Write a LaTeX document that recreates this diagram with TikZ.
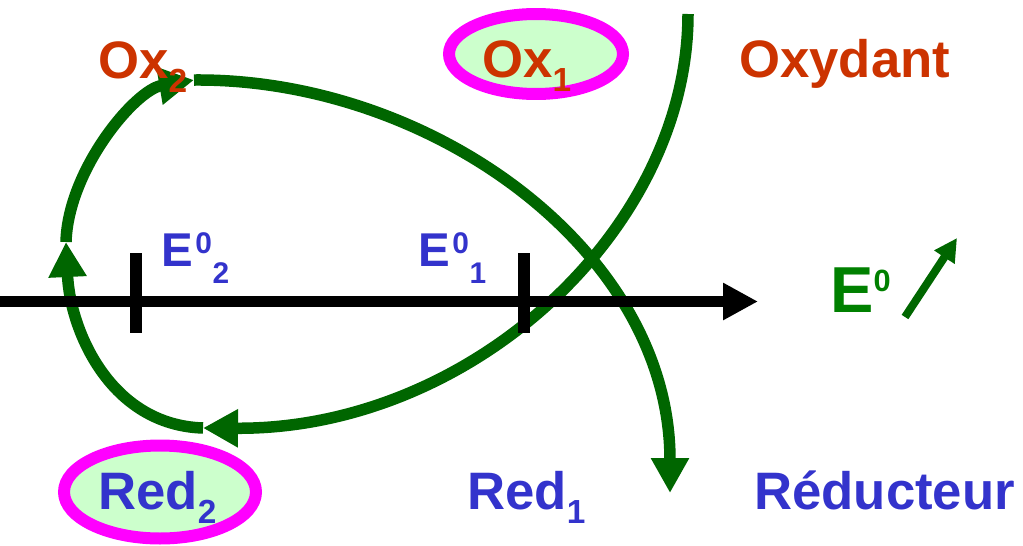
\documentclass[tikz,border=0pt]{standalone}
\usepackage{fontspec}
\setmainfont{Liberation Sans}
\usetikzlibrary{arrows.meta,shapes.geometric}
\definecolor{flowgreen}{HTML}{006600}
\definecolor{potgreen}{HTML}{008000}
\definecolor{oxcol}{HTML}{CC3300}
\definecolor{redcol}{HTML}{3333CC}
\definecolor{ovalfill}{HTML}{CCFFCC}
\definecolor{ovalline}{HTML}{FF00FF}
% raised or lowered index: shift, size, text
\newcommand{\idx}[3]{\raisebox{#1}{\fontsize{#2}{#2}\selectfont #3}}

\begin{document}
\begin{tikzpicture}[x=0.02cm,y=-0.02cm,
  txt/.style={anchor=base west,inner sep=0pt,font=\fontsize{30}{36}\selectfont\bfseries},
  pot/.style={anchor=base west,inner sep=0pt,font=\fontsize{27}{32}\selectfont\bfseries,text=redcol},
  oval/.style={ellipse,draw=ovalline,line width=0.24cm,fill=ovalfill,inner sep=0pt},
  flow/.style={draw=flowgreen,line width=0.23cm,-{Triangle[length=0.7cm,width=0.72cm]}},
  axis/.style={line width=0.22cm,-{Triangle[length=0.7cm,width=0.7cm]}},
  tick/.style={line width=0.24cm}]
\useasboundingbox (0,0) rectangle (1023,545);
% ovals
\node[oval,minimum width=3.48cm,minimum height=1.6cm] (ox1) at (536,54) {};
\node[oval,minimum width=3.84cm,minimum height=1.86cm] (red2) at (160,492) {};
% green curves
\coordinate (ox1top) at (688,14);
\coordinate (red2in) at (203,428);
\coordinate (leftmid) at (66,242);
\coordinate (ox2in) at (194,80);
\coordinate (red1end) at (670,493);
\draw[flow] (ox1top) .. controls (688,230) and (470,430) .. (red2in);
\draw[flow] (red2in) .. controls (110,425) and (70,330) .. (leftmid);
\draw[flow] (leftmid) .. controls (68,170) and (135,90) .. (ox2in);
\draw[flow] (ox2in) .. controls (430,78) and (670,250) .. (red1end);
% potential axis
\coordinate (axstart) at (0,301.5);
\coordinate (axend) at (758,301.5);
\coordinate (e2pos) at (135.5,301.5);
\coordinate (e1pos) at (524,301.5);
\draw[axis] (axstart) -- (axend);
\draw[tick] (e2pos) ++(0,-48.5) -- ++(0,80);
\draw[tick] (e1pos) ++(0,-48.5) -- ++(0,80);
% E0 increases
\coordinate (trendlow) at (905,317);
\coordinate (trendhigh) at (957,238);
\draw[draw=flowgreen,line width=0.16cm,-{Triangle[length=0.46cm,width=0.46cm]}] (trendlow) -- (trendhigh);
% labels
\node[txt,text=oxcol] (ox2lbl) at (98,78) {Ox\idx{-8pt}{19}{2}};
\node[txt,text=oxcol] (ox1lbl) at (482,77) {Ox\idx{-8pt}{19}{1}};
\node[txt,text=oxcol] (oxydant) at (739,77) {Oxydant};
\node[txt,text=redcol] (red2lbl) at (98,509) {Red\idx{-8pt}{19}{2}};
\node[txt,text=redcol] (red1lbl) at (467,509) {Red\idx{-8pt}{19}{1}};
\node[txt,text=redcol] (reducteur) at (754,509) {Réducteur};
\node[pot] (e2lbl) at (161.5,266) {E\kern1pt\idx{7.2pt}{17}{0}\kern0.5pt\idx{-9.7pt}{17}{2}};
\node[pot] (e1lbl) at (418.5,266) {E\kern1pt\idx{7.2pt}{17}{0}\kern0.5pt\idx{-9.7pt}{17}{1}};
\node[txt,text=potgreen,font=\fontsize{37}{44}\selectfont\bfseries] (e0lbl) at (830,312) {E\idx{11.4pt}{17.5}{0}};
\end{tikzpicture}
\end{document}
